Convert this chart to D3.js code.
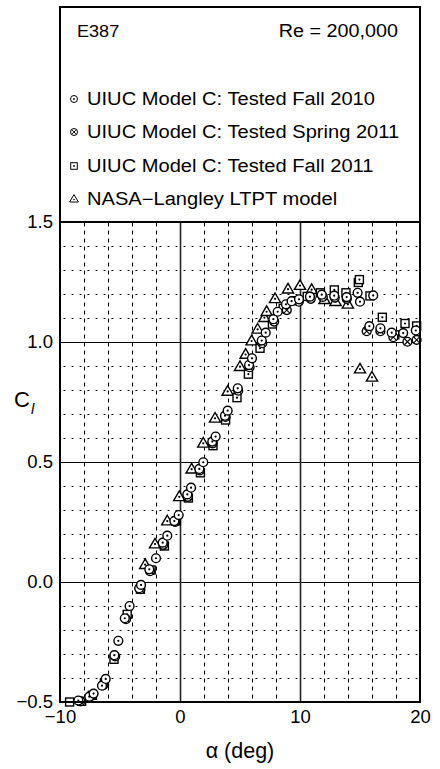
<!DOCTYPE html>
<html>
<head>
<meta charset="utf-8">
<script src="https://cdn.jsdelivr.net/npm/d3@7"></script>
<style>
  html, body { margin: 0; padding: 0; background: #fff; }
  svg text { font-family: "Liberation Sans", Arial, Helvetica, sans-serif; fill: #000; }
</style>
</head>
<body>
<svg id="chart" width="440" height="769"></svg>
<script>
// E387 lift curve, Re = 200,000: [alpha (deg), Cl]
const fall2010 = [
  [-8.47,-0.494],[-7.56,-0.478],[-7.2,-0.465],[-6.5,-0.432],[-6.19,-0.404],
  [-5.47,-0.305],[-5.14,-0.245],[-4.6,-0.151],[-4.2,-0.10],[-3.4,-0.026],
  [-3.25,-0.012],[-2.56,0.053],[-2.0,0.099],[-1.44,0.164],[-1.06,0.193],
  [-0.47,0.254],[-0.11,0.279],[0.61,0.365],[0.92,0.393],[1.61,0.471],
  [1.94,0.499],[2.69,0.585],[2.97,0.606],[3.75,0.693],[3.97,0.714],
  [4.81,0.807],[5.75,0.904],[6.0,0.932],[6.81,1.006],[7.14,1.039],
  [7.78,1.095],[8.14,1.126],[8.83,1.157],[9.3,1.17],[9.92,1.178],
  [10.83,1.189],[11.81,1.197],[12.85,1.193],[13.89,1.187],[14.8,1.205],
  [15.0,1.168],[16.1,1.194],
  [15.78,1.066],[16.7,1.057],[17.64,1.039],[18.6,1.037],[19.65,1.048]
];
const spring2011 = [
  [-8.3,-0.497],[-7.4,-0.475],[-6.4,-0.43],[-5.4,-0.31],[-4.5,-0.155],
  [-3.3,-0.03],[-2.5,0.045],[-1.4,0.155],[-0.4,0.25],[0.65,0.355],
  [1.65,0.465],[2.72,0.578],[3.8,0.688],[4.85,0.797],[5.8,0.895],
  [6.85,0.995],[7.85,1.085],[8.9,1.133],[9.9,1.168],[10.9,1.18],
  [11.9,1.188],[12.9,1.185],[13.9,1.18],
  [15.56,1.045],[16.7,1.045],[17.78,1.02],[18.95,1.001],[19.72,1.009]
];
const fall2011 = [
  [-9.2,-0.5],[-8.2,-0.497],[-7.3,-0.472],[-6.3,-0.42],[-5.5,-0.322],
  [-4.4,-0.135],[-3.3,-0.03],[-2.4,0.05],[-1.3,0.15],[-0.3,0.255],
  [0.7,0.35],[1.7,0.455],[2.75,0.568],[3.8,0.675],[4.75,0.768],
  [5.7,0.866],[6.67,0.974],[7.7,1.075],[8.6,1.14],[9.6,1.172],
  [10.6,1.19],[11.7,1.205],[12.86,1.217],[13.83,1.205],[14.86,1.248],
  [14.95,1.26],[15.83,1.192],
  [16.86,1.103],[17.9,1.03],[18.75,1.077],[19.72,1.067]
];
const nasaLTPT = [
  [-2.9,0.072],[-2.08,0.158],[-1.06,0.254],[-0.06,0.355],[0.97,0.47],
  [1.94,0.578],[2.92,0.682],[3.97,0.794],[5.0,0.897],[5.47,0.948],
  [5.97,1.004],[6.47,1.053],[7.03,1.101],[7.22,1.126],[7.92,1.18],
  [9.0,1.22],[10.0,1.235],[10.97,1.218],[12.04,1.176],[12.96,1.168],
  [13.99,1.157],[15.0,0.887],[16.0,0.853]
];

const xTicks = [-10, 0, 10, 20];
const yTicks = [-0.5, 0.0, 0.5, 1.0, 1.5];
const legendLabels = [
  "UIUC Model C: Tested Fall 2010",
  "UIUC Model C: Tested Spring 2011",
  "UIUC Model C: Tested Fall 2011",
  "NASA\u2212Langley LTPT model"
];
const airfoil = "E387";
const reynolds = "Re = 200,000";

const svg = d3.select("#chart");
const L = 60, R = 420, T = 222, B = 702, boxTop = 7;
const x = d3.scaleLinear().domain([-10, 20]).range([L, R]);
const y = d3.scaleLinear().domain([-0.5, 1.5]).range([B, T]);
const sx = 1.13; // text is drawn slightly wide

// grid (half-pixel offset keeps 1px lines crisp)
const g = svg.append("g").attr("transform", "translate(0.5,0.5)");
const vMinor = d3.range(-8, 20, 2).filter(v => v !== 0 && v !== 10);
g.selectAll("line.vm").data(vMinor).join("line")
  .attr("x1", d => x(d)).attr("x2", d => x(d)).attr("y1", T).attr("y2", B)
  .attr("stroke", "#000").attr("stroke-width", 1).attr("stroke-dasharray", "4,4");
const hMinor = d3.range(-4, 15).map(v => v / 10).filter(v => ![0, 0.5, 1.0].includes(v));
g.selectAll("line.hm").data(hMinor).join("line")
  .attr("x1", L + 3).attr("x2", R).attr("y1", d => y(d)).attr("y2", d => y(d))
  .attr("stroke", "#000").attr("stroke-width", 1).attr("stroke-dasharray", "2,6");
g.selectAll("line.hM").data([0, 0.5, 1.0]).join("line")
  .attr("x1", L).attr("x2", R).attr("y1", d => y(d)).attr("y2", d => y(d))
  .attr("stroke", "#000").attr("stroke-width", 1);
g.selectAll("line.vM").data([0, 10]).join("line")
  .attr("x1", d => x(d)).attr("x2", d => x(d)).attr("y1", T).attr("y2", B)
  .attr("stroke", "#222").attr("stroke-width", 1.6);

// markers
const mk = svg.append("g");
function circles(data, cross) {
  const s = mk.append("g").selectAll("g").data(data).join("g")
    .attr("transform", d => `translate(${x(d[0])},${y(d[1])})`);
  s.append("circle").attr("r", 4.4).attr("fill", "#fff").attr("stroke", "#000").attr("stroke-width", 1.4);
  if (cross) {
    s.append("path").attr("d", "M-3,-3L3,3M-3,3L3,-3").attr("stroke", "#000").attr("stroke-width", 1.1);
  } else {
    s.append("circle").attr("r", 1.1).attr("fill", "#000");
  }
}
function squares(data) {
  const s = mk.append("g").selectAll("g").data(data).join("g")
    .attr("transform", d => `translate(${x(d[0])},${y(d[1])})`);
  s.append("rect").attr("x", -4).attr("y", -4).attr("width", 8).attr("height", 8)
    .attr("fill", "#fff").attr("stroke", "#000").attr("stroke-width", 1.4);
  s.append("circle").attr("r", 1.1).attr("fill", "#000");
}
function triangles(data) {
  const s = mk.append("g").selectAll("g").data(data).join("g")
    .attr("transform", d => `translate(${x(d[0])},${y(d[1])})`);
  s.append("path").attr("d", "M0,-5.8L5.6,3.8L-5.6,3.8Z")
    .attr("fill", "#fff").attr("stroke", "#000").attr("stroke-width", 1.4).attr("stroke-linejoin", "miter");
  s.append("circle").attr("r", 1.1).attr("fill", "#000");
}
triangles(nasaLTPT);
squares(fall2011);
circles(spring2011, true);
circles(fall2010, false);

// frame
svg.append("rect").attr("x", L).attr("y", boxTop).attr("width", R - L).attr("height", B - boxTop)
  .attr("fill", "none").attr("stroke", "#000").attr("stroke-width", 2);
svg.append("line").attr("x1", L).attr("x2", R).attr("y1", T).attr("y2", T)
  .attr("stroke", "#000").attr("stroke-width", 2);

// axes
const yAxis = svg.append("g").attr("transform", `translate(${L},0)`)
  .call(d3.axisLeft(y).tickValues(yTicks).tickSize(0).tickPadding(7).tickFormat(d3.format(".1f")));
yAxis.select(".domain").remove();
yAxis.selectAll("text").attr("font-size", 18.5).attr("fill", "#000")
  .attr("font-family", "Liberation Sans, Arial, sans-serif");

const xAxis = svg.append("g").attr("transform", `translate(0,${B})`)
  .call(d3.axisBottom(x).tickValues(xTicks).tickSize(0).tickPadding(8).tickFormat(d3.format("d")));
xAxis.select(".domain").remove();
xAxis.selectAll("text").attr("font-size", 18.5).attr("fill", "#000")
  .attr("font-family", "Liberation Sans, Arial, sans-serif");

// axis titles
svg.append("text").attr("x", 240).attr("y", 758).attr("text-anchor", "middle")
  .attr("font-size", 21.5).text("\u03b1 (deg)");
const cl = svg.append("text").attr("x", 14).attr("y", 407).attr("font-size", 22);
cl.append("tspan").text("C");
cl.append("tspan").attr("font-size", 15).attr("font-style", "italic").attr("dy", 7).attr("dx", 1).text("l");

// legend box contents
svg.append("text").attr("transform", `translate(77,37) scale(${sx},1)`).attr("font-size", 16).text(airfoil);
svg.append("text").attr("transform", `translate(398,37) scale(${sx},1)`).attr("text-anchor", "end")
  .attr("font-size", 17.5).text(reynolds);

const legY = [105, 138, 172, 205];
const lg = svg.append("g");
legendLabels.forEach((lab, i) => {
  lg.append("text").attr("transform", `translate(87,${legY[i]}) scale(${sx},1)`)
    .attr("font-size", 17.8).text(lab);
});
// legend symbols
const lcx = 74;
const c0 = lg.append("g").attr("transform", `translate(${lcx},${legY[0] - 6})`);
c0.append("circle").attr("r", 3.5).attr("fill", "none").attr("stroke", "#000").attr("stroke-width", 1);
c0.append("circle").attr("r", 0.9).attr("fill", "#000");
const c1 = lg.append("g").attr("transform", `translate(${lcx},${legY[1] - 6})`);
c1.append("circle").attr("r", 3.5).attr("fill", "none").attr("stroke", "#000").attr("stroke-width", 1);
c1.append("path").attr("d", "M-2.4,-2.4L2.4,2.4M-2.4,2.4L2.4,-2.4").attr("stroke", "#000").attr("stroke-width", 0.9);
const c2 = lg.append("g").attr("transform", `translate(${lcx},${legY[2] - 6})`);
c2.append("rect").attr("x", -3.3).attr("y", -3.3).attr("width", 6.6).attr("height", 6.6)
  .attr("fill", "none").attr("stroke", "#000").attr("stroke-width", 1);
c2.append("circle").attr("r", 0.9).attr("fill", "#000");
const c3 = lg.append("g").attr("transform", `translate(${lcx},${legY[3] - 6})`);
c3.append("path").attr("d", "M0,-4.4L4.4,3L-4.4,3Z").attr("fill", "none").attr("stroke", "#000").attr("stroke-width", 1);
c3.append("circle").attr("r", 0.8).attr("fill", "#000").attr("cy", 0.5);
</script>
</body>
</html>
